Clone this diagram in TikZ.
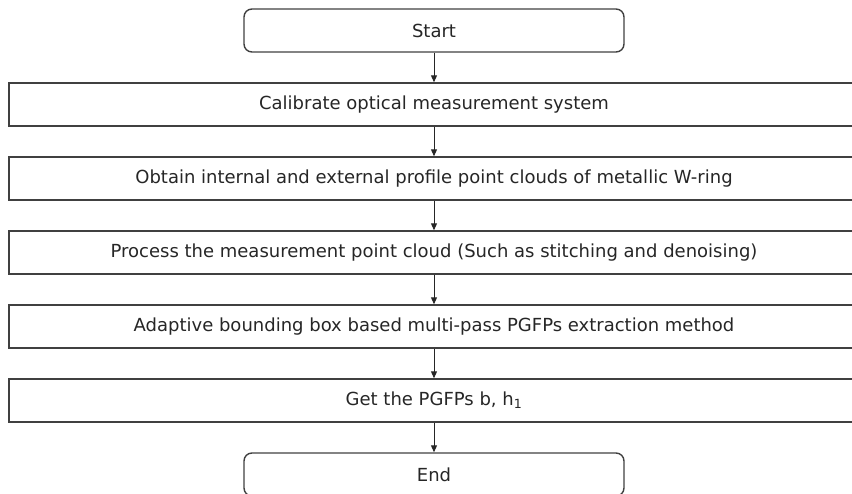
\documentclass[tikz,border=0pt]{standalone}
\usepackage{fontspec}
\setmainfont{DejaVu Sans}
\usetikzlibrary{positioning,arrows.meta}

\begin{document}
\begin{tikzpicture}[x=1pt,y=1pt,
        node distance=29.6pt,
        every node/.style={font=\fontsize{18}{21}\selectfont, text=black!85},
        terminal/.style={draw=black!75, line width=1.4pt, rounded corners=8pt,
                minimum width=380pt, minimum height=43pt, inner sep=0pt},
        process/.style={draw=black!75, line width=1.4pt,
                minimum width=850pt, minimum height=43pt, inner sep=0pt},
        flow/.style={draw=black!85, line width=1pt, -{Triangle[length=7pt,width=6pt]}}]

        % fix the page to the size of the reference
        \useasboundingbox (0,0) rectangle (852,-494);

        % Define the steps of the flow chart
        \node[terminal] (start) at (434, -30.5) {Start};
        \node[process, below=of start] (calib) {Calibrate optical measurement system};
        \node[process, below=of calib] (obtain) {Obtain internal and external profile point clouds of metallic W-ring};
        \node[process, below=of obtain] (proc) {Process the measurement point cloud (Such as stitching and denoising)};
        \node[process, below=of proc] (adapt) {Adaptive bounding box based multi-pass PGFPs extraction method};
        \node[process, below=of adapt] (get) {Get the PGFPs b, h\textsubscript{1}};
        \node[terminal, below=of get] (end) {End};

        % Connect them with arrows
        \foreach \a/\b in {start/calib, calib/obtain, obtain/proc, proc/adapt, adapt/get, get/end}
                \draw[flow] (\a) -- (\b);
\end{tikzpicture}
\end{document}
